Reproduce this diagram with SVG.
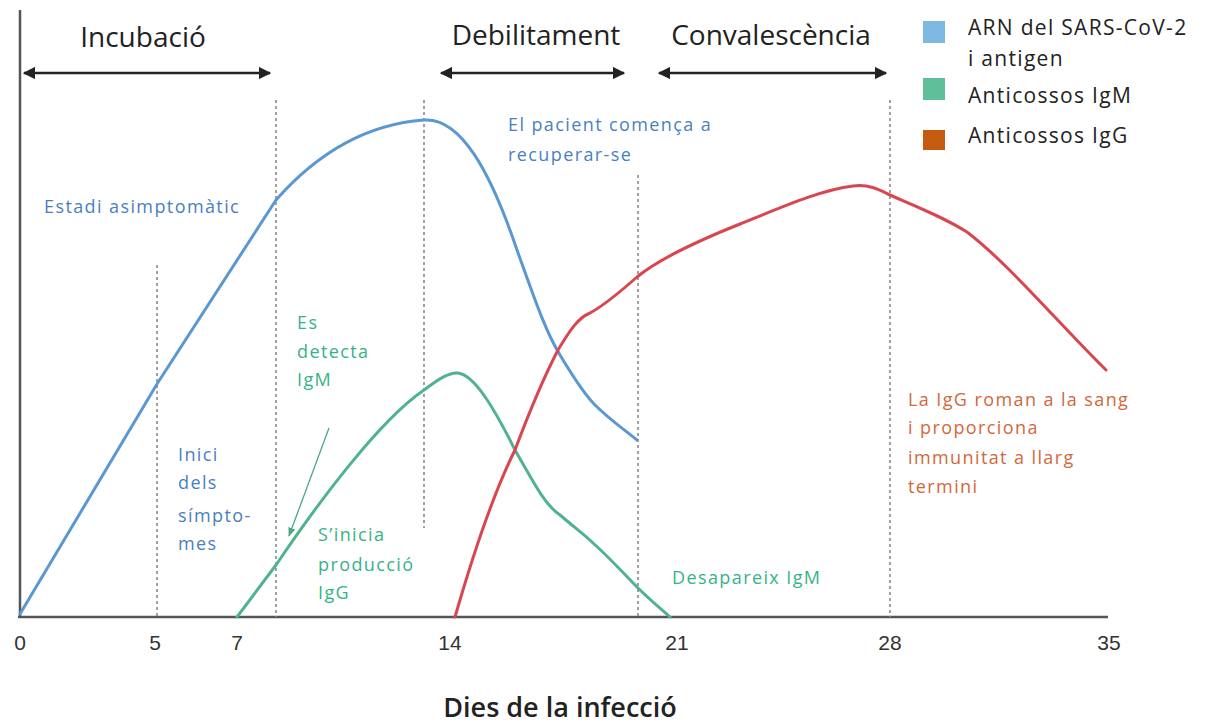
<svg xmlns="http://www.w3.org/2000/svg" width="1213" height="724" viewBox="0 0 1213 724">
<style>
.ttl{font-family:"Open Sans",sans-serif;font-size:28px;fill:#222}
.leg{font-family:"Open Sans",sans-serif;font-size:21px;letter-spacing:1.3px;fill:#222}
.tick{font-family:"Liberation Sans",Arial,sans-serif;font-size:21px;fill:#333}
.ann{font-family:"Open Sans",sans-serif;font-size:18px;letter-spacing:1.4px}
.b{fill:#4a7fbf}.g{fill:#36b386}.o{fill:#d2683c}
.dot{stroke:#8a8a8a;stroke-width:1.6;stroke-dasharray:3 3;fill:none}
.arr{stroke:#222;stroke-width:2.5;fill:none;marker-start:url(#ah);marker-end:url(#ah)}
.crv{fill:none;stroke-width:3;stroke-linejoin:round;stroke-linecap:round}
</style>
<defs>
<marker id="ah" viewBox="0 0 10 10" refX="9" refY="5" markerWidth="5" markerHeight="5" orient="auto-start-reverse" markerUnits="strokeWidth"><path d="M0,0 L10,5 L0,10 z" fill="#222"/></marker>
<marker id="gh" viewBox="0 0 10 10" refX="9" refY="5" markerWidth="7" markerHeight="7" orient="auto" markerUnits="strokeWidth"><path d="M0,1 L10,5 L0,9 z" fill="#4aa886"/></marker>
</defs>
<rect width="1213" height="724" fill="#fff"/>
<g id="axes">
<line x1="20" y1="10" x2="20" y2="618" stroke="#555" stroke-width="2.5"/>
<line x1="18" y1="617" x2="1108" y2="617" stroke="#555" stroke-width="2.5"/>
</g>
<g id="gridlines">
<line class="dot" x1="157" y1="265" x2="157" y2="617"/>
<line class="dot" x1="276" y1="100" x2="276" y2="617"/>
<line class="dot" x1="424" y1="100" x2="424" y2="528"/>
<line class="dot" x1="638" y1="175" x2="638" y2="617"/>
<line class="dot" x1="890" y1="100" x2="890" y2="617"/>
</g>
<g id="ticks">
<text class="tick" x="20" y="650" text-anchor="middle">0</text>
<text class="tick" x="155" y="650" text-anchor="middle">5</text>
<text class="tick" x="237" y="650" text-anchor="middle">7</text>
<text class="tick" x="450" y="650" text-anchor="middle">14</text>
<text class="tick" x="677" y="650" text-anchor="middle">21</text>
<text class="tick" x="890" y="650" text-anchor="middle">28</text>
<text class="tick" x="1109" y="650" text-anchor="middle">35</text>
<text x="560" y="717" text-anchor="middle" style="font-family:'Open Sans',sans-serif;font-size:27px;font-weight:600;fill:#222">Dies de la infecció</text>
</g>
<g id="phases">
<g id="incubacio"><text class="ttl" x="143" y="47" text-anchor="middle">Incubació</text><line class="arr" x1="24" y1="73" x2="270" y2="73"/></g>
<g id="debilitament"><text class="ttl" x="536" y="45" text-anchor="middle">Debilitament</text><line class="arr" x1="441" y1="73" x2="624" y2="73"/></g>
<g id="convalescencia"><text class="ttl" x="771" y="45" text-anchor="middle">Convalescència</text><line class="arr" x1="659" y1="73" x2="886" y2="73"/></g>
</g>
<g id="curves">
<path id="arn" class="crv" stroke="#5b97d1" d="M20,614 L157,384 L276,200 C320,150 370,124 424,120 C460,117 490,170 517,250 C535,300 545,330 560,355 C575,380 585,395 595,405 C610,420 625,430 637,440"/>
<path id="igm" class="crv" stroke="#4fb38d" d="M237,617 L276,565 C320,500 380,420 424,390 C440,378 450,372 458,373 C475,375 495,410 515,450 C535,485 545,505 560,515 C575,528 585,535 593,543 C610,558 625,575 637,587 C650,600 660,608 670,617"/>
<path id="igg" class="crv" stroke="#d8474f" d="M455,617 C470,565 490,500 515,450 C530,410 545,375 558,350 C570,330 578,318 590,313 C605,305 620,292 637,277 C660,258 700,240 740,224 C780,208 820,190 853,186 C870,184 880,190 890,195 C920,208 945,218 967,232 C1010,265 1060,325 1106,370"/>
</g>
<g id="annotations">
<text class="ann b" x="44" y="213">Estadi asimptomàtic</text>
<text class="ann b" x="508" y="131">El pacient comença a</text>
<text class="ann b" x="508" y="161">recuperar-se</text>
<text class="ann b" x="178" y="461">Inici</text>
<text class="ann b" x="178" y="489">dels</text>
<text class="ann b" x="178" y="522">símpto-</text>
<text class="ann b" x="178" y="550">mes</text>
<text class="ann g" x="297" y="329">Es</text>
<text class="ann g" x="297" y="358">detecta</text>
<text class="ann g" x="297" y="386">IgM</text>
<line x1="329" y1="428" x2="289" y2="536" stroke="#4aa886" stroke-width="1.3" marker-end="url(#gh)"/>
<text class="ann g" x="318" y="541">S’inicia</text>
<text class="ann g" x="318" y="571">producció</text>
<text class="ann g" x="318" y="599">IgG</text>
<text class="ann g" x="672" y="584">Desapareix IgM</text>
<text class="ann o" x="908" y="406">La IgG roman a la sang</text>
<text class="ann o" x="908" y="434">i proporciona</text>
<text class="ann o" x="908" y="464">immunitat a llarg</text>
<text class="ann o" x="908" y="493">termini</text>
</g>
<g id="legend">
<rect x="923" y="21" width="22" height="22" fill="#7db9e2"/>
<text class="leg" x="968" y="35">ARN del SARS-CoV-2</text>
<text class="leg" x="968" y="66">i antigen</text>
<rect x="923" y="78" width="22" height="22" fill="#5fbf9b"/>
<text class="leg" x="968" y="103">Anticossos IgM</text>
<rect x="923" y="130" width="22" height="20" fill="#c55a11"/>
<text class="leg" x="968" y="143">Anticossos IgG</text>
</g>
</svg>
